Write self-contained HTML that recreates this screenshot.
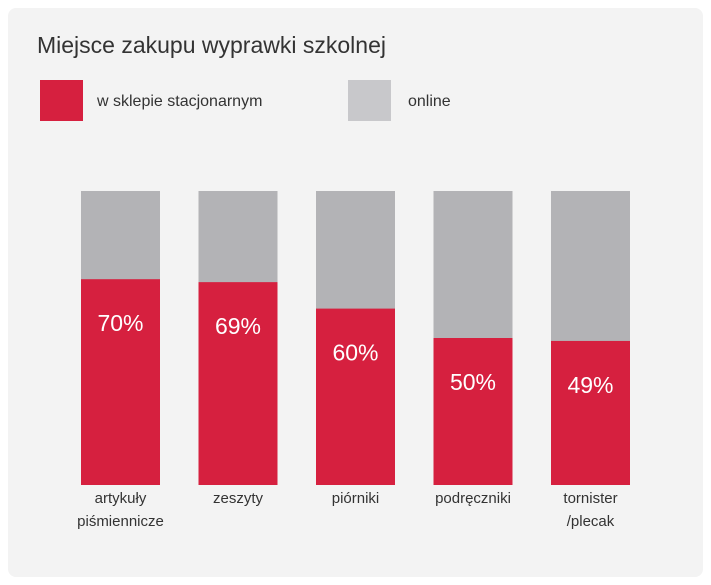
<!DOCTYPE html>
<html><head><meta charset="utf-8"><style>
html,body{margin:0;padding:0;background:#fff;}
body{width:711px;height:585px;position:relative;font-family:"Liberation Sans",sans-serif;}
#card{position:absolute;left:8px;top:8px;width:695px;height:569px;background:#f3f3f3;border-radius:8px;}
</style></head><body>
<div id="card"></div>
<svg id="chart" width="711" height="585" style="position:absolute;left:0;top:0">
<text x="37" y="53" font-size="23" fill="#333">Miejsce zakupu wyprawki szkolnej</text>
<rect x="40" y="80" width="43" height="41" fill="#d6203f"/>
<text x="97" y="106" font-size="16" fill="#333">w sklepie stacjonarnym</text>
<rect x="348" y="80" width="43" height="41" fill="#c8c8cb"/>
<text x="408" y="106" font-size="16" fill="#333">online</text>
<g id="bars"></g>
</svg>
<script>
const categories=[["artykuły","piśmiennicze"],["zeszyty"],["piórniki"],["podręczniki"],["tornister","/plecak"]];
const storeValues=[70,69,60,50,49];
const NS="http://www.w3.org/2000/svg";
const g=document.getElementById('bars');
const top0=191,bottom=485,H=bottom-top0,x0=81,step=117.5,bw=79;
function y(v){return bottom-v/100*H;}
function el(t,a){const e=document.createElementNS(NS,t);for(const k in a)e.setAttribute(k,a[k]);g.appendChild(e);return e;}
storeValues.forEach((v,i)=>{
 const x=x0+i*step;
 const bg=el('rect',{x:x,y:y(100),width:bw,height:H,fill:'#b3b3b6'});
 
 
 const r=el('rect',{x:x,y:y(v),width:bw,height:bottom-y(v),fill:'#d6203f'});
 
 
 const t=el('text',{x:x+bw/2,y:y(v)+52,'text-anchor':'middle','font-size':'23',fill:'#fff'});
 t.textContent=v+'%';
 
 
 categories[i].forEach((line,j)=>{
  const c=el('text',{x:x+bw/2,y:503+j*23,'text-anchor':'middle','font-size':'15',fill:'#333'});
  c.textContent=line;
  
  
 });
});
</script>
</body></html>
